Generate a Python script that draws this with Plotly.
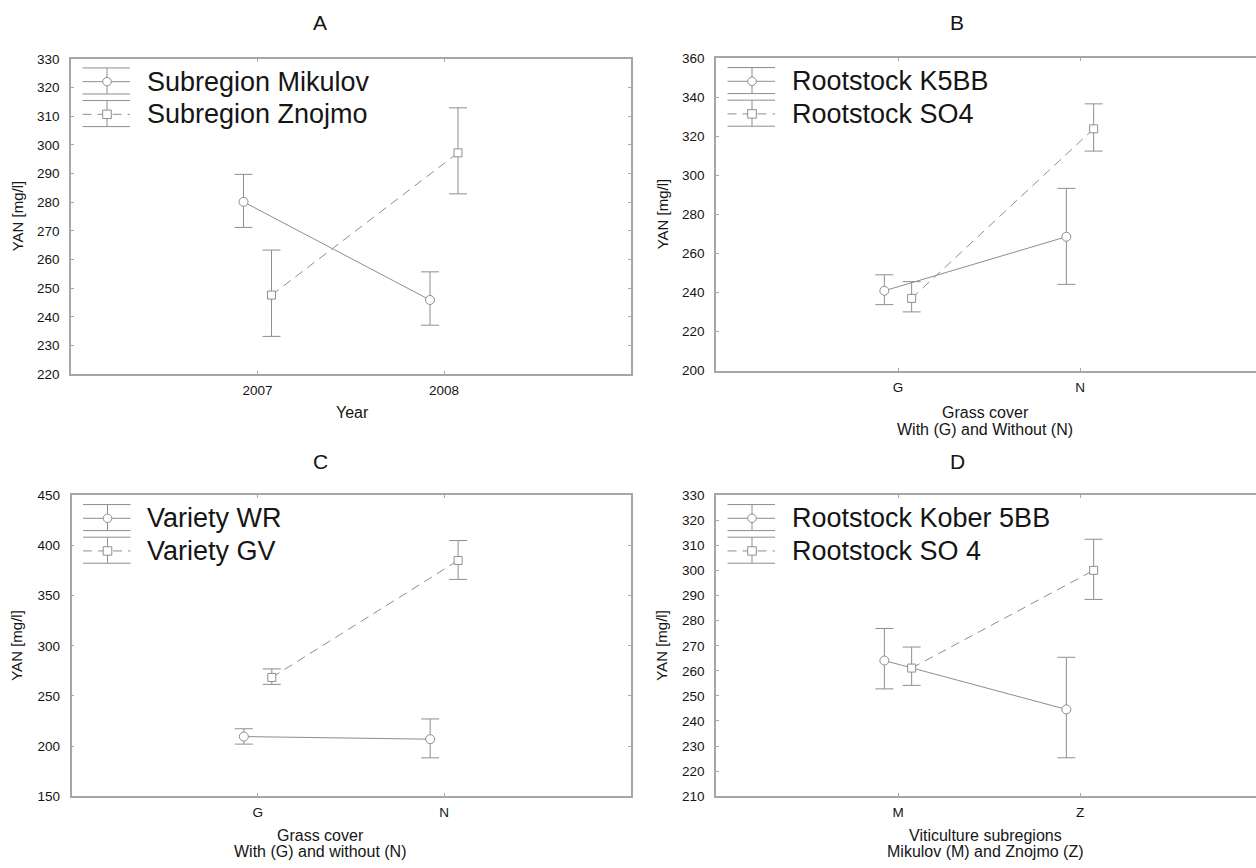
import numpy as np
import plotly.graph_objects as go

W, H = 1256, 868

# ---------------- data ----------------
# Panel A
a_categories = ["2007", "2008"]
a_names = ["Subregion Mikulov", "Subregion Znojmo"]
a_mikulov = [280.1, 245.9]
a_mikulov_hi = [289.7, 255.7]
a_mikulov_lo = [271.2, 237.1]
a_znojmo = [247.6, 297.2]
a_znojmo_hi = [263.3, 312.9]
a_znojmo_lo = [233.2, 282.9]

# Panel B
b_categories = ["G", "N"]
b_names = ["Rootstock K5BB", "Rootstock SO4"]
b_k5bb = [240.9, 268.6]
b_k5bb_hi = [249.1, 293.4]
b_k5bb_lo = [233.8, 244.2]
b_so4 = [237.0, 323.9]
b_so4_hi = [245.6, 336.7]
b_so4_lo = [230.1, 312.5]

# Panel C
c_categories = ["G", "N"]
c_names = ["Variety WR", "Variety GV"]
c_wr = [209.4, 206.8]
c_wr_hi = [217.2, 227.0]
c_wr_lo = [201.9, 188.2]
c_gv = [268.4, 385.1]
c_gv_hi = [276.9, 405.0]
c_gv_lo = [261.5, 366.2]

# Panel D
d_categories = ["M", "Z"]
d_names = ["Rootstock Kober 5BB", "Rootstock SO 4"]
d_kober = [264.1, 244.6]
d_kober_hi = [276.9, 265.4]
d_kober_lo = [252.8, 225.3]
d_so4 = [261.1, 300.1]
d_so4_hi = [269.5, 312.5]
d_so4_lo = [254.2, 288.5]

# y-axis ticks
a_yticks = list(range(220, 331, 10))
b_yticks = list(range(200, 361, 20))
c_yticks = list(range(150, 451, 50))
d_yticks = list(range(210, 331, 10))

# texts
panel_letters = ["A", "B", "C", "D"]
y_title = "YAN [mg/l]"
x_titles = [
    ["Year"],
    ["Grass cover", "With (G) and Without (N)"],
    ["Grass cover", "With (G) and without (N)"],
    ["Viticulture subregions", "Mikulov (M) and Znojmo (Z)"],
]

# ---------------- style ----------------
GREY = "#8e8e8e"
AXIS = "#a6a6a6"
TXT = "#151515"
FONT = "Liberation Sans, Arial, sans-serif"
DODGE = 0.075
DASH = "9px,6px"


def py(p):
    return 1 - p / H


def pxx(p):
    return p / W


# panel geometry in pixels: left, right, top, bottom
geo = [
    dict(key="", l=71, r=630.5, t=52.7, b=373.7, full=True,
         letter=(320, 16), ytitle=(17, 213), xt=[(352, 413)]),
    dict(key="2", l=716, r=1256, t=52.3, b=370, full=False,
         letter=(957, 16), ytitle=(662, 211), xt=[(985, 413), (985, 430)]),
    dict(key="3", l=71.5, r=630.5, t=497, b=803, full=True,
         letter=(320, 462), ytitle=(17, 650), xt=[(320, 843), (320, 859)]),
    dict(key="4", l=716, r=1256, t=497, b=803, full=False,
         letter=(957, 462), ytitle=(662, 650), xt=[(985, 843), (985, 859)]),
]

panels = [
    dict(cats=a_categories, names=a_names,
         s1=(a_mikulov, a_mikulov_hi, a_mikulov_lo),
         s2=(a_znojmo, a_znojmo_hi, a_znojmo_lo), yt=a_yticks),
    dict(cats=b_categories, names=b_names,
         s1=(b_k5bb, b_k5bb_hi, b_k5bb_lo),
         s2=(b_so4, b_so4_hi, b_so4_lo), yt=b_yticks),
    dict(cats=c_categories, names=c_names,
         s1=(c_wr, c_wr_hi, c_wr_lo),
         s2=(c_gv, c_gv_hi, c_gv_lo), yt=c_yticks),
    dict(cats=d_categories, names=d_names,
         s1=(d_kober, d_kober_hi, d_kober_lo),
         s2=(d_so4, d_so4_hi, d_so4_lo), yt=d_yticks),
]

fig = go.Figure()

series_style = [
    dict(sym="circle", size=9, dash="solid", off=-DODGE),
    dict(sym="square", size=8, dash=DASH, off=DODGE),
]

for p, g in zip(panels, geo):
    idx = np.arange(len(p["cats"]))
    for k, ser in enumerate([p["s1"], p["s2"]]):
        st = series_style[k]
        y, hi, lo = [np.array(v, dtype=float) for v in ser]
        fig.add_trace(go.Scatter(
            x=idx + st["off"], y=y,
            mode="lines+markers",
            name=p["names"][k],
            showlegend=False,
            line=dict(color=GREY, width=1, dash=st["dash"]),
            marker=dict(symbol=st["sym"], size=st["size"], color="white",
                        line=dict(color=GREY, width=1)),
            error_y=dict(type="data", symmetric=False,
                         array=hi - y, arrayminus=y - lo,
                         color=GREY, thickness=1, width=9),
            xaxis="x" + g["key"], yaxis="y" + g["key"],
        ))

layout = dict(
    width=W, height=H,
    margin=dict(l=0, r=0, t=0, b=0),
    paper_bgcolor="white", plot_bgcolor="white",
    font=dict(family=FONT, color=TXT, size=14),
    showlegend=False,
)

for p, g in zip(panels, geo):
    k = g["key"]
    yt = p["yt"]
    spacing = (630.5 - 71) / 3.0
    if g["full"]:
        xr = [-1, 2]
    else:
        xr = [-1, -1 + (g["r"] - g["l"]) / 182.0]
    layout["xaxis" + k] = dict(
        domain=[pxx(g["l"]), pxx(g["r"])],
        anchor="y" + k,
        range=xr,
        tickvals=list(range(len(p["cats"]))),
        ticktext=p["cats"],
        showgrid=False, zeroline=False,
        showline=True, linecolor=AXIS, linewidth=1.5, mirror="ticks",
        ticks="inside", ticklen=3, tickcolor=AXIS,
        ticklabelstandoff=3,
        tickfont=dict(size=13.5, family=FONT, color=TXT),
        fixedrange=True,
    )
    layout["yaxis" + k] = dict(
        domain=[py(g["b"]), py(g["t"])],
        anchor="x" + k,
        range=[yt[0], yt[-1]],
        tickvals=yt,
        showgrid=False, zeroline=False,
        showline=True, linecolor=AXIS, linewidth=1.5,
        mirror="ticks" if g["full"] else False,
        ticks="inside", ticklen=3, tickcolor=AXIS,
        ticklabelstandoff=7,
        tickfont=dict(size=13.5, family=FONT, color=TXT),
        fixedrange=True,
    )

fig.update_layout(**layout)

ann = []
shapes = []


def add_text(text, x, y, size, angle=0, xanchor="center"):
    ann.append(dict(text=text, x=pxx(x), y=py(y), xref="paper", yref="paper",
                    showarrow=False, textangle=angle,
                    font=dict(size=size, family=FONT, color=TXT),
                    xanchor=xanchor, yanchor="middle"))


def seg(x0, y0, x1, y1, dash="solid"):
    shapes.append(dict(type="line", xref="paper", yref="paper",
                       x0=pxx(x0), y0=py(y0), x1=pxx(x1), y1=py(y1),
                       line=dict(color=GREY, width=1, dash=dash)))


for i, (p, g) in enumerate(zip(panels, geo)):
    add_text(panel_letters[i], g["letter"][0], g["letter"][1], 21)
    add_text(y_title, g["ytitle"][0], g["ytitle"][1], 15, angle=-90)
    for line_text, (tx, ty) in zip(x_titles[i], g["xt"]):
        add_text(line_text, tx, ty, 16)

    # legend (Statistica style glyph: line + marker + error bar)
    L, T = g["l"], g["t"]
    gx0, gx1, gm = L + 11.5, L + 59, L + 36
    for k in range(2):
        st = series_style[k]
        ry = T + 23.3 + 33.2 * k
        seg(gx0, ry - 14, gx1, ry - 14)
        seg(gx0, ry + 12.5, gx1, ry + 12.5)
        seg(gm, ry - 14, gm, ry + 12.5)
        seg(gx0, ry, gx1, ry, dash=st["dash"])
        r = 4.3
        shapes.append(dict(type="circle" if k == 0 else "rect",
                           xref="paper", yref="paper",
                           x0=pxx(gm - r), x1=pxx(gm + r),
                           y0=py(ry + r), y1=py(ry - r),
                           fillcolor="white",
                           line=dict(color=GREY, width=1)))
        add_text(p["names"][k], L + 73.5, ry, 27, xanchor="left")

fig.update_layout(annotations=ann, shapes=shapes)

fig.write_html("out.html")
